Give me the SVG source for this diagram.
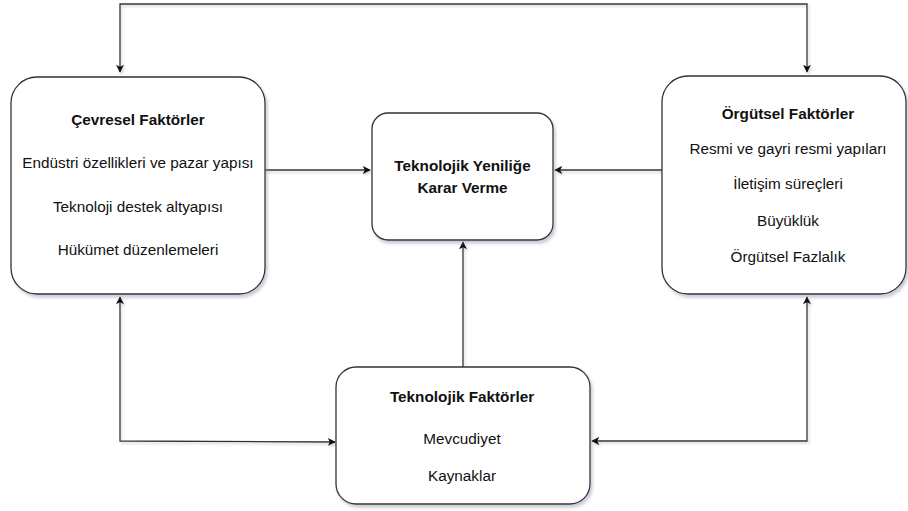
<svg xmlns="http://www.w3.org/2000/svg" width="908" height="511" viewBox="0 0 908 511">
<defs>
<filter id="sh" x="-10%" y="-10%" width="130%" height="130%">
<feDropShadow dx="2" dy="3" stdDeviation="1.5" flood-color="#8a8fa8" flood-opacity="0.45"/>
</filter>
<filter id="shl" filterUnits="userSpaceOnUse" x="0" y="0" width="908" height="511">
<feDropShadow dx="1.5" dy="2" stdDeviation="1.2" flood-color="#8a8fa8" flood-opacity="0.4"/>
</filter>
<marker id="ah" viewBox="0 0 10 10" refX="9" refY="5" markerWidth="8" markerHeight="8" markerUnits="userSpaceOnUse" orient="auto-start-reverse">
<path d="M0,0 L10,5 L0,10 L2.5,5 Z" fill="#111"/>
</marker>
<style>
.box{fill:#fff;stroke:#333;stroke-width:1.3;filter:url(#sh)}
.t{font-family:"Liberation Sans",Arial,sans-serif;font-size:15.3px;fill:#111;text-anchor:middle}
.b{font-weight:bold}
.c{fill:none;stroke:#333;stroke-width:1.3;filter:url(#shl)}
</style>
</defs>
<g id="connectors">
<path class="c" d="M120,72 V4 H807 V72" marker-start="url(#ah)" marker-end="url(#ah)"/>
<path class="c" d="M265,170 H370" marker-end="url(#ah)"/>
<path class="c" d="M662,170 H555" marker-end="url(#ah)"/>
<path class="c" d="M463,367 V242" marker-end="url(#ah)"/>
<path class="c" d="M120,297 V441 L335,442" marker-start="url(#ah)" marker-end="url(#ah)"/>
<path class="c" d="M807,297 V441 H592" marker-start="url(#ah)" marker-end="url(#ah)"/>
</g>
<g id="cevresel">
<rect class="box" x="11" y="77" width="254" height="217" rx="26"/>
<text class="t b" x="138" y="125">Çevresel Faktörler</text>
<text class="t" x="138" y="168">Endüstri özellikleri ve pazar yapısı</text>
<text class="t" x="138" y="212">Teknoloji destek altyapısı</text>
<text class="t" x="138" y="255">Hükümet düzenlemeleri</text>
</g>
<g id="karar">
<rect class="box" x="372" y="113" width="181" height="127" rx="16"/>
<text class="t b" x="462.5" y="171">Teknolojik Yeniliğe</text>
<text class="t b" x="462.5" y="193">Karar Verme</text>
</g>
<g id="orgutsel">
<rect class="box" x="662" y="76" width="244" height="218" rx="26"/>
<text class="t b" x="788" y="119">Örgütsel Faktörler</text>
<text class="t" x="788" y="154">Resmi ve gayri resmi yapıları</text>
<text class="t" x="788" y="189">İletişim süreçleri</text>
<text class="t" x="788" y="226">Büyüklük</text>
<text class="t" x="788" y="262">Örgütsel Fazlalık</text>
</g>
<g id="teknolojik">
<rect class="box" x="336" y="367" width="254" height="137" rx="20"/>
<text class="t b" x="462" y="402">Teknolojik Faktörler</text>
<text class="t" x="462" y="444">Mevcudiyet</text>
<text class="t" x="462" y="481">Kaynaklar</text>
</g>
</svg>
